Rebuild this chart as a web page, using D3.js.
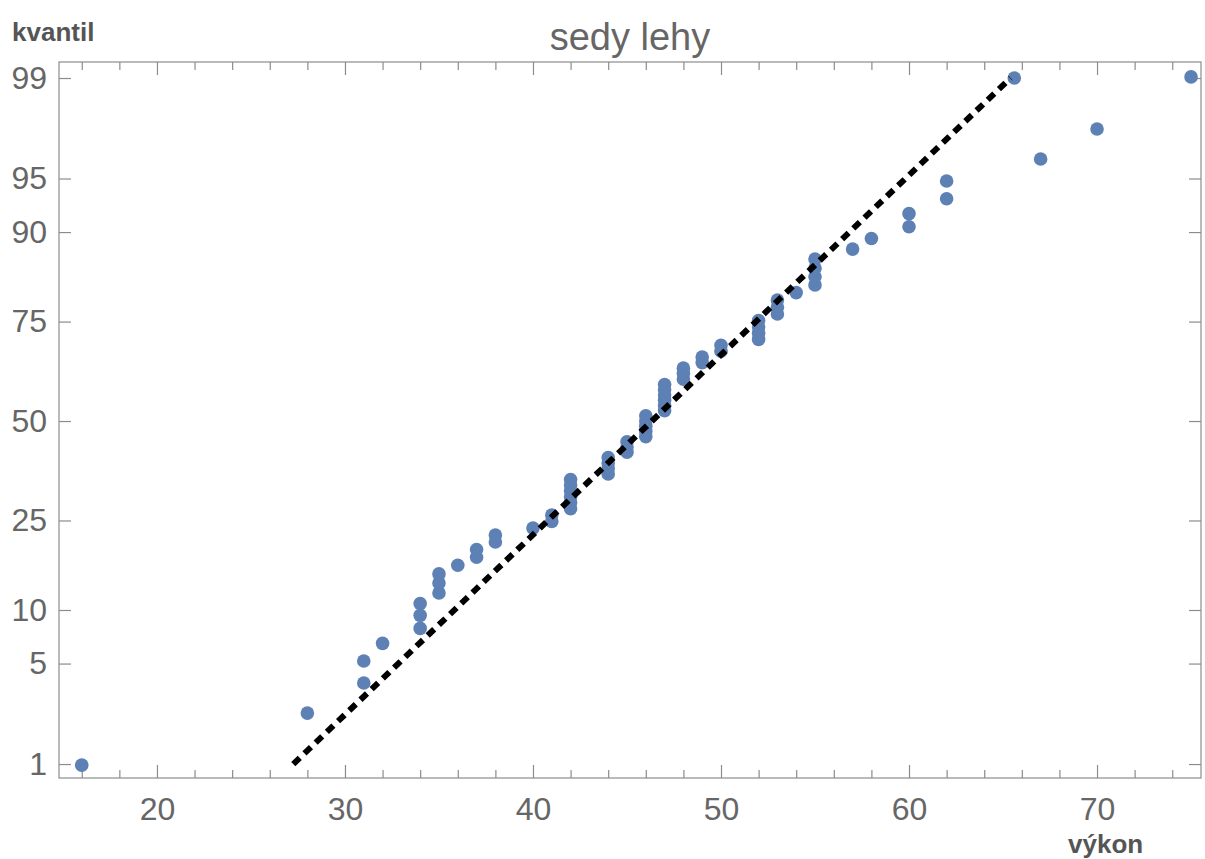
<html>

<head>
    <title>sedy lehy</title>
    <script src='https://d3js.org/d3.v7.min.js'></script>
    <style>
        body { margin: 0; background: #fff; }
        text { font-family: Arial, 'Liberation Sans', sans-serif; }
    </style>
</head>

<body>
    <svg id="chart"></svg>
    <script>
        // sorted measurements (vykon) and their plotting positions in percent (kvantil)
        var vykon = [16, 28, 31, 31, 32, 34, 34, 34, 35, 35, 35, 36, 37, 37, 38, 38, 40, 41, 41,
            42, 42, 42, 42, 42, 42, 44, 44, 44, 44, 45, 45, 45, 46, 46, 46, 46, 46,
            47, 47, 47, 47, 47, 47, 48, 48, 48, 49, 49, 50, 50, 52, 52, 52, 52, 53, 53, 53, 54,
            55, 55, 55, 55, 57, 58, 60, 60, 62, 62, 67, 70, 75, 65.6];
        var kvantil = [0.98, 2.38, 3.78, 5.18, 6.58, 7.98, 9.38, 10.78, 12.18, 13.59, 14.99, 16.39,
            17.79, 19.19, 20.59, 21.99, 23.39, 24.79, 26.19, 27.59, 28.99, 30.39, 31.79, 33.19,
            34.59, 35.99, 37.39, 38.8, 40.2, 41.6, 43.0, 44.4, 45.8, 47.2, 48.6, 50.0, 51.4,
            52.8, 54.2, 55.6, 57.0, 58.4, 59.8, 61.2, 62.61, 64.01, 65.41, 66.81, 68.21, 69.61,
            71.01, 72.41, 73.81, 75.21, 76.61, 78.01, 79.41, 80.81, 82.21, 83.61, 85.01, 86.41,
            87.82, 89.22, 90.62, 92.02, 93.42, 94.82, 96.22, 97.62, 99.02, 99.0];

        // reference (fitted normal) line ends
        var lineX = [27.25, 65.4];
        var lineP = [1, 99];

        var yTicks = [1, 5, 10, 25, 50, 75, 90, 95, 99];
        var xTicks = [20, 30, 40, 50, 60, 70];
        var xMinor = [16, 18, 22, 24, 26, 28, 32, 34, 36, 38, 42, 44, 46, 48, 52, 54, 56, 58, 62, 64, 66, 68, 72, 74];

        // inverse normal CDF (Acklam)
        function probit(p) {
            var a = [-3.969683028665376e+01, 2.209460984245205e+02, -2.759285104469687e+02, 1.383577518672690e+02, -3.066479806614716e+01, 2.506628277459239e+00];
            var b = [-5.447609879822406e+01, 1.615858368580409e+02, -1.556989798598866e+02, 6.680131188771972e+01, -1.328068155288572e+01];
            var c = [-7.784894002430293e-03, -3.223964580411365e-01, -2.400758277161838e+00, -2.549732539343734e+00, 4.374664141464968e+00, 2.938163982698783e+00];
            var d = [7.784695709041462e-03, 3.224671290700398e-01, 2.445134137142996e+00, 3.754408661907416e+00];
            var pl = 0.02425, q, r;
            if (p < pl) {
                q = Math.sqrt(-2 * Math.log(p));
                return (((((c[0] * q + c[1]) * q + c[2]) * q + c[3]) * q + c[4]) * q + c[5]) / ((((d[0] * q + d[1]) * q + d[2]) * q + d[3]) * q + 1);
            }
            if (p > 1 - pl) {
                q = Math.sqrt(-2 * Math.log(1 - p));
                return -(((((c[0] * q + c[1]) * q + c[2]) * q + c[3]) * q + c[4]) * q + c[5]) / ((((d[0] * q + d[1]) * q + d[2]) * q + d[3]) * q + 1);
            }
            q = p - 0.5; r = q * q;
            return (((((a[0] * r + a[1]) * r + a[2]) * r + a[3]) * r + a[4]) * r + a[5]) * q / (((((b[0] * r + b[1]) * r + b[2]) * r + b[3]) * r + b[4]) * r + 1);
        }
        function z(pct) { return probit(pct / 100); }

        var W = 1205, H = 859;
        var pL = 59, pR = 1201, pT = 62, pB = 778;
        var grey = "#8c8c8c", labelCol = "#666";

        var x = d3.scaleLinear().domain([14.79, 75.53]).range([pL, pR]);
        var y = d3.scaleLinear().domain([-2.421, 2.435]).range([pB, pT]);

        var svg = d3.select("#chart").attr("width", W).attr("height", H);

        // frame
        svg.append("rect")
            .attr("x", pL).attr("y", pT)
            .attr("width", pR - pL).attr("height", pB - pT)
            .attr("fill", "none").attr("stroke", grey).attr("stroke-width", 1.2);

        function styleAxis(g) {
            g.select(".domain").remove();
            g.selectAll(".tick line").attr("stroke", grey).attr("stroke-width", 1.2);
            g.selectAll(".tick text").attr("fill", labelCol)
                .style("font-size", "32px").style("font-family", "Arial, 'Liberation Sans', sans-serif");
        }

        // x axes: bottom labelled, top ticks only
        svg.append("g").attr("transform", "translate(0," + pB + ")")
            .call(d3.axisBottom(x).tickValues(xTicks).tickSizeInner(-13).tickPadding(19).tickFormat(d3.format("d")))
            .call(styleAxis);
        svg.append("g").attr("transform", "translate(0," + pB + ")")
            .call(d3.axisBottom(x).tickValues(xMinor).tickSizeInner(-8).tickFormat(""))
            .call(styleAxis);
        svg.append("g").attr("transform", "translate(0," + pT + ")")
            .call(d3.axisTop(x).tickValues(xTicks).tickSizeInner(-13).tickFormat(""))
            .call(styleAxis);
        svg.append("g").attr("transform", "translate(0," + pT + ")")
            .call(d3.axisTop(x).tickValues(xMinor).tickSizeInner(-8).tickFormat(""))
            .call(styleAxis);

        // y axes on probit scale
        var zTicks = yTicks.map(z);
        svg.append("g").attr("transform", "translate(" + pL + ",0)")
            .call(d3.axisLeft(y).tickValues(zTicks).tickSizeInner(-12).tickPadding(12)
                .tickFormat(function (d, i) { return yTicks[i]; }))
            .call(styleAxis);
        svg.append("g").attr("transform", "translate(" + pR + ",0)")
            .call(d3.axisRight(y).tickValues(zTicks).tickSizeInner(-12).tickFormat(""))
            .call(styleAxis);

        // points
        svg.append("g").selectAll("circle")
            .data(vykon)
            .enter()
            .append("circle")
            .attr("cx", function (d) { return x(d); })
            .attr("cy", function (d, i) { return y(z(kvantil[i])); })
            .attr("r", 6.8)
            .attr("fill", "#5e81b5");

        // reference line
        var line = d3.line()
            .x(function (d) { return x(d[0]); })
            .y(function (d) { return y(z(d[1])); });
        svg.append("path")
            .datum(lineX.map(function (v, i) { return [v, lineP[i]]; }))
            .attr("d", line)
            .attr("fill", "none")
            .attr("stroke", "#000")
            .attr("stroke-width", 6)
            .attr("stroke-dasharray", "9,6.5");

        // titles
        svg.append("text").attr("x", 630).attr("y", 50).attr("text-anchor", "middle")
            .attr("fill", labelCol).style("font-size", "38px").text("sedy lehy");
        svg.append("text").attr("x", 12).attr("y", 41)
            .attr("fill", "#555").style("font-size", "26px").style("font-weight", "bold").text("kvantil");
        svg.append("text").attr("x", 1068).attr("y", 853)
            .attr("fill", "#555").style("font-size", "26px").style("font-weight", "bold").text("výkon");
    </script>
</body>

</html>
